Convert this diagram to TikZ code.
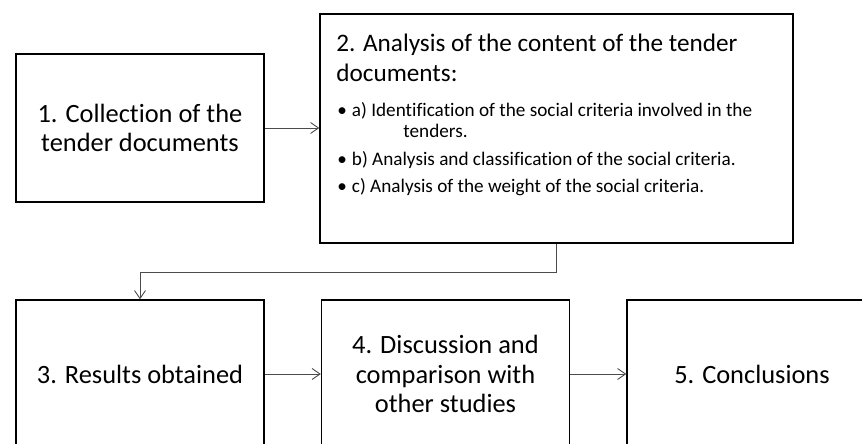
\documentclass[tikz,border=0pt]{standalone}
\usepackage{fontspec}
\setmainfont{Carlito}[Ligatures=NoCommon]
\usetikzlibrary{arrows.meta,calc,positioning}

\tikzset{
stagebox/.style={draw, line width=0.7pt, minimum width=124pt, minimum height=74pt,
  align=center, inner sep=0pt, font=\fontsize{13.2}{14.8}\selectfont},
link/.style={-{Straight Barb[length=4pt,width=5.5pt]}, draw=black!70, line width=0.45pt},
txt/.style={anchor=base west, inner sep=0pt},
big/.style={font=\fontsize{12.6}{15}\selectfont},
small/.style={font=\fontsize{9.6}{11}\selectfont}
}

\begin{document}
\begin{tikzpicture}[x=0.5pt,y=-0.5pt]
\useasboundingbox (0,0) rectangle (862,444);

\node[stagebox] (box1) at (140,128) {1. Collection of the\\tender documents};
\node[stagebox, minimum width=236.5pt, minimum height=114.5pt] (box2) at (556.5,128.5) {};

% text of the second stage
\node[txt, big] (title1) at (336,52) {2. Analysis of the content of the tender};
\node[txt, big] (title2) at (336,82) {documents:};
\node[txt, small] (itema) at (337,117) {\textbullet\hspace{2.5pt}a) Identification of the social criteria involved in the};
\node[txt, small] (itema2) at (403,138) {tenders.};
\node[txt, small] (itemb) at (337,165) {\textbullet\hspace{2.5pt}b) Analysis and classification of the social criteria.};
\node[txt, small] (itemc) at (337,192) {\textbullet\hspace{2.5pt}c) Analysis of the weight of the social criteria.};

\node[stagebox] (box3) at (140,374) {3. Results obtained};
\node[stagebox] (box4) at (445.5,374) {4. Discussion and\\comparison with\\other studies};
\node[stagebox, minimum width=125pt] (box5) at (752,374) {5. Conclusions};

\coordinate (turn) at (140,272);

\draw[link] (box1.east) -- (box1.east -| box2.west);
\draw[link] (box2.south) |- (turn) -- (box3.north);
\draw[link] (box3) -- (box4);
\draw[link] (box4) -- (box5);

\end{tikzpicture}
\end{document}
